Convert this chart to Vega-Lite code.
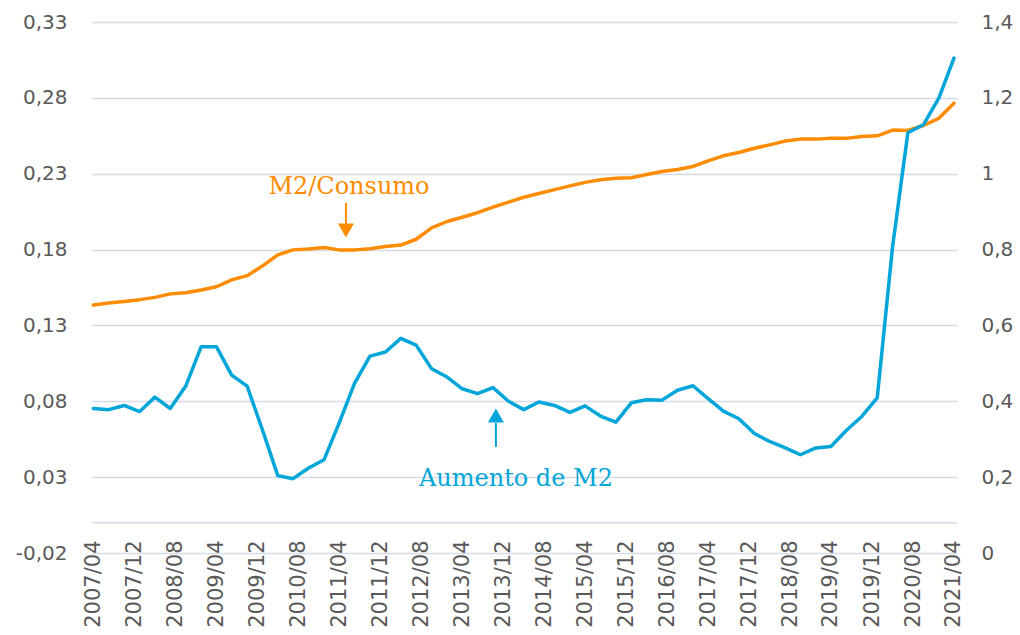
{
  "$schema": "https://vega.github.io/schema/vega-lite/v6.json",
  "width": 865,
  "height": 531,
  "autosize": {"type": "none"},
  "padding": {"left": 92, "top": 22, "right": 63, "bottom": 82},
  "background": "white",
  "config": {
    "view": {"stroke": null},
    "axis": {"labelFont": "DejaVu Sans", "labelFontSize": 20, "labelColor": "#595959", "title": null, "ticks": false, "domain": false}
  },
  "datasets": {
    "series": [
      {"date": "2007-04-01", "m2c": 0.1435, "aum": 0.381},
      {"date": "2007-07-01", "m2c": 0.1448, "aum": 0.378},
      {"date": "2007-10-01", "m2c": 0.1458, "aum": 0.389},
      {"date": "2008-01-01", "m2c": 0.1470, "aum": 0.373},
      {"date": "2008-04-01", "m2c": 0.1485, "aum": 0.411},
      {"date": "2008-07-01", "m2c": 0.1508, "aum": 0.381},
      {"date": "2008-10-01", "m2c": 0.1515, "aum": 0.440},
      {"date": "2009-01-01", "m2c": 0.1533, "aum": 0.544},
      {"date": "2009-04-01", "m2c": 0.1555, "aum": 0.544},
      {"date": "2009-07-01", "m2c": 0.1600, "aum": 0.469},
      {"date": "2009-10-01", "m2c": 0.1628, "aum": 0.440},
      {"date": "2010-01-01", "m2c": 0.1693, "aum": 0.323},
      {"date": "2010-04-01", "m2c": 0.1765, "aum": 0.204},
      {"date": "2010-07-01", "m2c": 0.1798, "aum": 0.196},
      {"date": "2010-10-01", "m2c": 0.1803, "aum": 0.224},
      {"date": "2011-01-01", "m2c": 0.1813, "aum": 0.246},
      {"date": "2011-04-01", "m2c": 0.1798, "aum": 0.343},
      {"date": "2011-07-01", "m2c": 0.1798, "aum": 0.447},
      {"date": "2011-10-01", "m2c": 0.1805, "aum": 0.519},
      {"date": "2012-01-01", "m2c": 0.1820, "aum": 0.530},
      {"date": "2012-04-01", "m2c": 0.1830, "aum": 0.566},
      {"date": "2012-07-01", "m2c": 0.1868, "aum": 0.548},
      {"date": "2012-10-01", "m2c": 0.1943, "aum": 0.486},
      {"date": "2013-01-01", "m2c": 0.1985, "aum": 0.464},
      {"date": "2013-04-01", "m2c": 0.2013, "aum": 0.433},
      {"date": "2013-07-01", "m2c": 0.2043, "aum": 0.420},
      {"date": "2013-10-01", "m2c": 0.2080, "aum": 0.436},
      {"date": "2014-01-01", "m2c": 0.2113, "aum": 0.400},
      {"date": "2014-04-01", "m2c": 0.2145, "aum": 0.378},
      {"date": "2014-07-01", "m2c": 0.2170, "aum": 0.398},
      {"date": "2014-10-01", "m2c": 0.2195, "aum": 0.389},
      {"date": "2015-01-01", "m2c": 0.2220, "aum": 0.371},
      {"date": "2015-04-01", "m2c": 0.2243, "aum": 0.388},
      {"date": "2015-07-01", "m2c": 0.2260, "aum": 0.361},
      {"date": "2015-10-01", "m2c": 0.2270, "aum": 0.345},
      {"date": "2016-01-01", "m2c": 0.2273, "aum": 0.396},
      {"date": "2016-04-01", "m2c": 0.2295, "aum": 0.404},
      {"date": "2016-07-01", "m2c": 0.2315, "aum": 0.403},
      {"date": "2016-10-01", "m2c": 0.2328, "aum": 0.429},
      {"date": "2017-01-01", "m2c": 0.2348, "aum": 0.441},
      {"date": "2017-04-01", "m2c": 0.2385, "aum": 0.407},
      {"date": "2017-07-01", "m2c": 0.2418, "aum": 0.374},
      {"date": "2017-10-01", "m2c": 0.2440, "aum": 0.354},
      {"date": "2018-01-01", "m2c": 0.2468, "aum": 0.315},
      {"date": "2018-04-01", "m2c": 0.2490, "aum": 0.294},
      {"date": "2018-07-01", "m2c": 0.2515, "aum": 0.278},
      {"date": "2018-10-01", "m2c": 0.2528, "aum": 0.259},
      {"date": "2019-01-01", "m2c": 0.2528, "aum": 0.277},
      {"date": "2019-04-01", "m2c": 0.2533, "aum": 0.281},
      {"date": "2019-07-01", "m2c": 0.2533, "aum": 0.323},
      {"date": "2019-10-01", "m2c": 0.2545, "aum": 0.360},
      {"date": "2020-01-01", "m2c": 0.2550, "aum": 0.409},
      {"date": "2020-04-01", "m2c": 0.2588, "aum": 0.807},
      {"date": "2020-07-01", "m2c": 0.2585, "aum": 1.108},
      {"date": "2020-10-01", "m2c": 0.2618, "aum": 1.129},
      {"date": "2021-01-01", "m2c": 0.2665, "aum": 1.199},
      {"date": "2021-04-01", "m2c": 0.2765, "aum": 1.305}
    ],
    "annOrange": [
      {"textDate": "2011-05-29", "textV": 0.2213, "label": "M2/Consumo", "arrowDate": "2011-05-11", "lineTop": 0.2107, "lineBottom": 0.1969, "tip": 0.1926}
    ],
    "annBlue": [
      {"textDate": "2014-02-14", "textV": 0.195, "label": "Aumento de M2", "arrowDate": "2013-10-18", "lineTop": 0.3427, "lineBottom": 0.2795, "tip": 0.3625}
    ],
    "baseline": [
      {"v": 0}
    ]
  },
  "layer": [
    {
      "layer": [
        {
          "data": {"name": "baseline"},
          "mark": {"type": "rule", "color": "#d5dce7", "strokeWidth": 1.5},
          "encoding": {"y": {"field": "v", "type": "quantitative"}}
        },
        {
          "data": {"name": "series"},
          "mark": {"type": "line", "color": "#ff8c00", "strokeWidth": 3.5, "strokeJoin": "round", "strokeCap": "round"},
          "encoding": {
            "x": {
              "field": "date", "type": "temporal",
              "scale": {"type": "utc", "domain": [{"year": 2007, "month": 3, "date": 24, "utc": true}, {"year": 2021, "month": 4, "date": 19, "utc": true}]},
              "axis": {
                "orient": "bottom", "grid": false, "labelAngle": -90, "labelPadding": -13, "labelFontSize": 21,
                "labelExpr": "utcFormat(datum.value, '%Y/%m')",
                "values": [
                  {"year": 2007, "month": 4, "utc": true}, {"year": 2007, "month": 12, "utc": true},
                  {"year": 2008, "month": 8, "utc": true}, {"year": 2009, "month": 4, "utc": true},
                  {"year": 2009, "month": 12, "utc": true}, {"year": 2010, "month": 8, "utc": true},
                  {"year": 2011, "month": 4, "utc": true}, {"year": 2011, "month": 12, "utc": true},
                  {"year": 2012, "month": 8, "utc": true}, {"year": 2013, "month": 4, "utc": true},
                  {"year": 2013, "month": 12, "utc": true}, {"year": 2014, "month": 8, "utc": true},
                  {"year": 2015, "month": 4, "utc": true}, {"year": 2015, "month": 12, "utc": true},
                  {"year": 2016, "month": 8, "utc": true}, {"year": 2017, "month": 4, "utc": true},
                  {"year": 2017, "month": 12, "utc": true}, {"year": 2018, "month": 8, "utc": true},
                  {"year": 2019, "month": 4, "utc": true}, {"year": 2019, "month": 12, "utc": true},
                  {"year": 2020, "month": 8, "utc": true}, {"year": 2021, "month": 4, "utc": true}
                ]
              }
            },
            "y": {
              "field": "m2c", "type": "quantitative",
              "scale": {"domain": [-0.02, 0.33], "nice": false, "zero": false},
              "axis": {
                "orient": "left", "grid": true, "gridColor": "#d5dce7", "gridWidth": 1.5, "labelPadding": 25,
                "values": [-0.02, 0.03, 0.08, 0.13, 0.18, 0.23, 0.28, 0.33],
                "labelExpr": "replace(replace(format(datum.value, '.2f'), '.', ','), '\u2212', '-')"
              }
            }
          }
        },
        {
          "data": {"name": "annOrange"},
          "mark": {"type": "text", "font": "DejaVu Serif", "fontSize": 24, "color": "#ff8c00", "align": "center", "baseline": "middle"},
          "encoding": {
            "x": {"field": "textDate", "type": "temporal"},
            "y": {"field": "textV", "type": "quantitative"},
            "text": {"field": "label"}
          }
        },
        {
          "data": {"name": "annOrange"},
          "mark": {"type": "rule", "color": "#ff8c00", "strokeWidth": 2},
          "encoding": {
            "x": {"field": "arrowDate", "type": "temporal"},
            "y": {"field": "lineTop", "type": "quantitative"},
            "y2": {"field": "lineBottom"}
          }
        },
        {
          "data": {"name": "annOrange"},
          "mark": {"type": "point", "shape": "triangle-down", "filled": true, "size": 256, "color": "#ff8c00", "opacity": 1},
          "encoding": {
            "x": {"field": "arrowDate", "type": "temporal"},
            "y": {"field": "tip", "type": "quantitative"}
          }
        }
      ]
    },
    {
      "layer": [
        {
          "data": {"name": "series"},
          "mark": {"type": "line", "color": "#00a5d9", "strokeWidth": 3.5, "strokeJoin": "round", "strokeCap": "round"},
          "encoding": {
            "x": {"field": "date", "type": "temporal"},
            "y": {
              "field": "aum", "type": "quantitative",
              "scale": {"domain": [0, 1.4], "nice": false},
              "axis": {
                "orient": "right", "grid": false, "labelPadding": 24,
                "values": [0, 0.2, 0.4, 0.6, 0.8, 1, 1.2, 1.4],
                "labelExpr": "replace(format(datum.value, '.1~f'), '.', ',')"
              }
            }
          }
        },
        {
          "data": {"name": "annBlue"},
          "mark": {"type": "text", "font": "DejaVu Serif", "fontSize": 24, "color": "#00a5d9", "align": "center", "baseline": "middle"},
          "encoding": {
            "x": {"field": "textDate", "type": "temporal"},
            "y": {"field": "textV", "type": "quantitative"},
            "text": {"field": "label"}
          }
        },
        {
          "data": {"name": "annBlue"},
          "mark": {"type": "rule", "color": "#00a5d9", "strokeWidth": 2},
          "encoding": {
            "x": {"field": "arrowDate", "type": "temporal"},
            "y": {"field": "lineTop", "type": "quantitative"},
            "y2": {"field": "lineBottom"}
          }
        },
        {
          "data": {"name": "annBlue"},
          "mark": {"type": "point", "shape": "triangle-up", "filled": true, "size": 256, "color": "#00a5d9", "opacity": 1},
          "encoding": {
            "x": {"field": "arrowDate", "type": "temporal"},
            "y": {"field": "tip", "type": "quantitative"}
          }
        }
      ]
    }
  ],
  "resolve": {"scale": {"y": "independent"}, "axis": {"y": "independent"}}
}
